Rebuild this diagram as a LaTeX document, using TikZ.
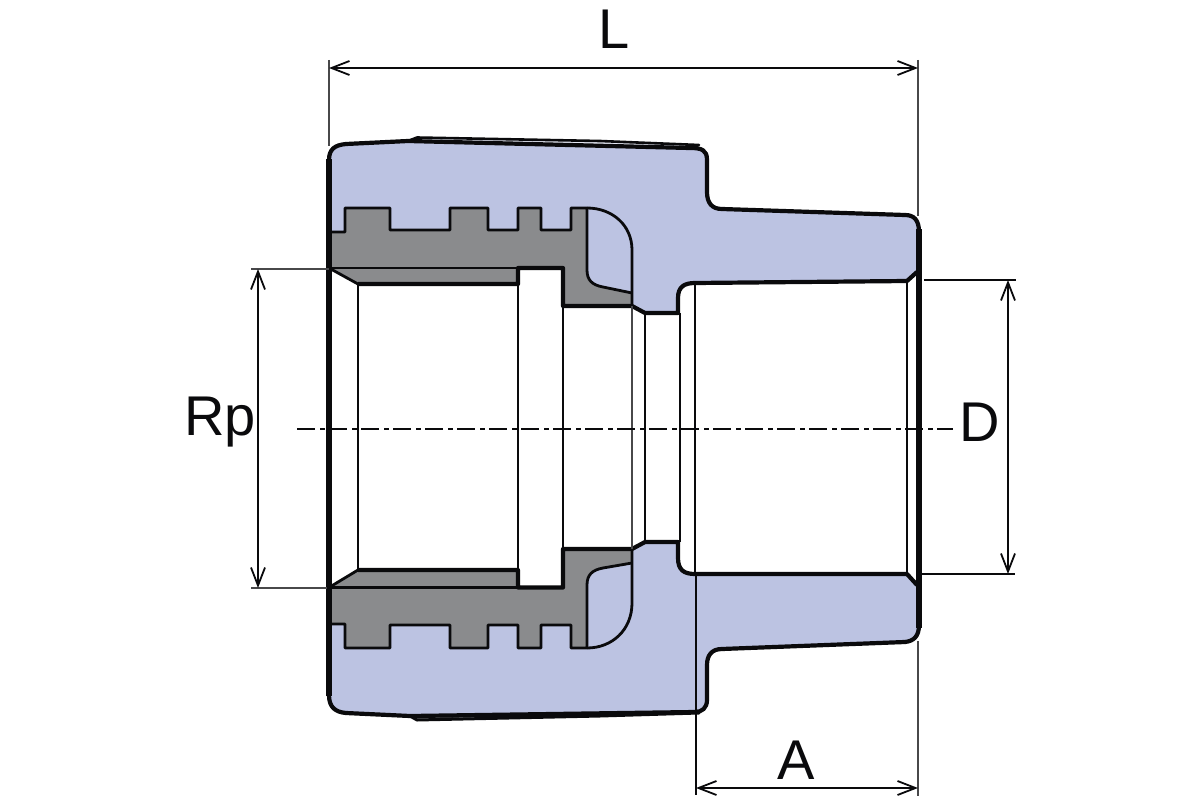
\documentclass[tikz,border=0pt]{standalone}
\usepackage{fontspec}
\setmainfont{Liberation Sans}
\usetikzlibrary{arrows.meta}
\definecolor{bodyblue}{HTML}{BCC3E2}
\definecolor{insertgrey}{HTML}{8A8B8D}
\definecolor{inkblack}{HTML}{0A0A0C}
\definecolor{thingrey}{HTML}{48484A}
\tikzset{
  outline/.style={draw=inkblack,line width=4.2pt,line join=round},
  heavy/.style={draw=inkblack,line width=6.4pt},
  inner edge/.style={draw=inkblack,line width=2.8pt,line join=round},
  thin edge/.style={draw=inkblack,line width=2pt},
  ext line/.style={draw=thingrey,line width=1.7pt},
  dim line/.style={draw=inkblack,line width=1.9pt,{Straight Barb[length=18pt,width=14pt,line width=1.8pt]}-{Straight Barb[length=18pt,width=14pt,line width=1.8pt]}},
  centre line/.style={draw=inkblack,line width=1.9pt,dash pattern=on 18pt off 5pt on 5pt off 4pt},
  label text/.style={inner sep=0pt,text=inkblack,font=\fontsize{56}{60}\selectfont},
}
\begin{document}
\begin{tikzpicture}[x=1pt,y=-1pt]
\useasboundingbox (0,0) rectangle (1200,800);
% body
\path[fill=bodyblue] (329,160) .. controls (329,149) and (335,145) .. (346,144) -- (408,141) -- (690,148) .. controls (702,148) and (707,150) .. (707,160) -- (707,192) .. controls (707,203) and (712,209) .. (722,209) -- (905,215) .. controls (914,215) and (919,220) .. (919,232) -- (919,625) .. controls (919,636) and (914,641) .. (905,642) -- (722,649) .. controls (712,649) and (707,655) .. (707,665) -- (707,700) .. controls (707,708) and (702,712) .. (695,712) -- (410,716) -- (346,713) .. controls (335,712) and (329,707) .. (329,695) -- cycle;
% grey inserts
\path[fill=insertgrey] (329,232) -- (345,232) -- (345,208) -- (390,208) -- (390,230) -- (450,230) -- (450,208) -- (488,208) -- (488,230) -- (518,230) -- (518,208) -- (541,208) -- (541,230) -- (571,230) -- (571,208) -- (587,208) -- (587,270) .. controls (587,280) and (592,285) .. (603,287) -- (632,293) -- (632,306) -- (563,306) -- (563,284) -- (358,284) -- (329,268) -- cycle;
\path[fill=insertgrey] (329,624) -- (345,624) -- (345,648) -- (390,648) -- (390,625) -- (450,625) -- (450,648) -- (488,648) -- (488,625) -- (518,625) -- (518,648) -- (541,648) -- (541,625) -- (571,625) -- (571,648) -- (587,648) -- (587,585) .. controls (587,575) and (592,570) .. (603,568) -- (632,563) -- (632,549) -- (563,549) -- (563,570) -- (358,570) -- (329,587) -- cycle;
% bore
\path[fill=white] (329,268) -- (358,284) -- (518,284) -- (518,268) -- (563,268) -- (563,306) -- (632,306) -- (645,313) -- (678,313) -- (678,298) .. controls (678,287) and (684,283) .. (695,283) -- (907,281) -- (919,272) -- (919,586) -- (907,574) -- (695,574) .. controls (684,574) and (678,570) .. (678,558) -- (678,542) -- (645,542) -- (632,549) -- (563,549) -- (563,587) -- (518,587) -- (518,570) -- (358,570) -- (329,587) -- cycle;
% thread teeth and pockets
\draw[inner edge] (329,232) -- (345,232) -- (345,208) -- (390,208) -- (390,230) -- (450,230) -- (450,208) -- (488,208) -- (488,230) -- (518,230) -- (518,208) -- (541,208) -- (541,230) -- (571,230) -- (571,208) -- (587,208) -- (587,270) .. controls (587,280) and (592,285) .. (603,287) -- (632,293);
\draw[inner edge] (587,208) .. controls (612,208) and (632,225) .. (632,250) -- (632,306);
\draw[inner edge] (329,624) -- (345,624) -- (345,648) -- (390,648) -- (390,625) -- (450,625) -- (450,648) -- (488,648) -- (488,625) -- (518,625) -- (518,648) -- (541,648) -- (541,625) -- (571,625) -- (571,648) -- (587,648) -- (587,585) .. controls (587,575) and (592,570) .. (603,568) -- (632,563);
\draw[inner edge] (587,648) .. controls (612,648) and (632,630) .. (632,603) -- (632,549);
\draw[inner edge] (329,268) -- (518,268);
\draw[inner edge] (329,587.5) -- (518,587.5);
% bore outline
\draw[outline] (358,284) -- (518,284) -- (518,268) -- (563,268) -- (563,306) -- (632,306) -- (645,313) -- (678,313) -- (678,298) .. controls (678,287) and (684,283) .. (695,283) -- (907,281) -- (917,272);
\draw[outline] (358,570) -- (518,570) -- (518,587.5) -- (563,587.5) -- (563,549) -- (632,549) -- (645,542) -- (678,542) -- (678,558) .. controls (678,570) and (684,574) .. (695,574) -- (907,574) -- (917,585);
\draw[inner edge] (329,268) -- (358,284);
\draw[inner edge] (329,587.5) -- (358,570);
% internal thin edges
\draw[thin edge] (358,284) -- (358,570);
\draw[thin edge] (518,284) -- (518,570);
\draw[thin edge] (563,306) -- (563,549);
\draw[ext line,line width=2pt] (632,306) -- (632,549);
\draw[thin edge] (645,313) -- (645,542);
\draw[thin edge] (680,313) -- (680,542);
\draw[thin edge] (695,283) -- (695,574);
\draw[thin edge] (907,281) -- (907,574);
% ridges on the sleeve
\draw[draw=inkblack,fill=white!60!bodyblue,line width=2.6pt,line join=round] (408,141) -- (417,137.5) -- (600,141) -- (699,145) -- (690,148) -- cycle;
\draw[draw=inkblack,fill=insertgrey,line width=3pt,line join=round] (410,716) -- (417,720) -- (600,716) -- (699,713) -- cycle;
% outer outline
\draw[outline] (329,160) .. controls (329,149) and (335,145) .. (346,144) -- (408,141) -- (690,148) .. controls (702,148) and (707,150) .. (707,160) -- (707,192) .. controls (707,203) and (712,209) .. (722,209) -- (905,215) .. controls (914,215) and (919,220) .. (919,232);
\draw[outline] (919,625) .. controls (919,636) and (914,641) .. (905,642) -- (722,649) .. controls (712,649) and (707,655) .. (707,665) -- (707,700) .. controls (707,708) and (702,712) .. (695,712) -- (410,716) -- (346,713) .. controls (335,712) and (329,707) .. (329,695);
\draw[draw=inkblack,line width=5.2pt] (329,159) -- (329,696);
\draw[heavy] (919,229) -- (919,628);
% coordinates for the dimensions
\coordinate (Lleft) at (329,68);
\coordinate (Lright) at (918,68);
\coordinate (RpTop) at (258,269);
\coordinate (RpBot) at (258,588);
\coordinate (DTop) at (1008,280);
\coordinate (DBot) at (1008,574);
\coordinate (Aleft) at (696,788);
\coordinate (Aright) at (918,788);
\coordinate (centreL) at (297,429);
\coordinate (centreR) at (953,429);
% extension lines
\draw[ext line] (329,60) -- (329,146);
\draw[ext line] (918,60) -- (918,216);
\draw[ext line] (918,641) -- (918,796);
\draw[ext line,draw=inkblack] (696,574) -- (696,795);
\draw[ext line] (251,269) -- (329,269);
\draw[ext line] (251,588) -- (327,588);
\draw[ext line,draw=inkblack] (924,280) -- (1016,280);
\draw[ext line,draw=inkblack] (921,574) -- (1015,574);
% dimensions
\draw[dim line] (Lleft) -- (Lright);
\draw[dim line] (RpTop) -- (RpBot);
\draw[dim line] (DTop) -- (DBot);
\draw[dim line] (Aleft) -- (Aright);
\draw[centre line] (centreL) -- (centreR);
% labels
\node[label text,anchor=base west] (labelL) at (598,49) {L};
\node[label text,anchor=base west] (labelRp) at (184,435) {Rp};
\node[label text,anchor=base west] (labelD) at (959,441) {D};
\node[label text,anchor=base] (labelA) at (796,779) {A};
\end{tikzpicture}
\end{document}
